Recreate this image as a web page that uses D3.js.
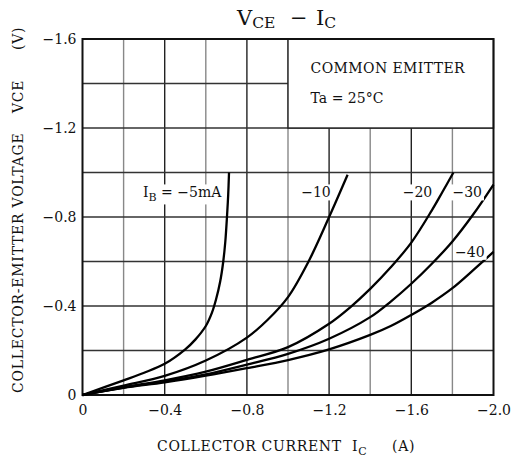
<!DOCTYPE html>
<html>
<head>
<meta charset="utf-8">
<script src="https://cdn.jsdelivr.net/npm/d3@7/dist/d3.min.js"></script>
<style>
    body { margin: 0; background: #fff; }
    text { font-family: "DejaVu Serif", "Liberation Serif", serif; fill: #111; }
</style>
</head>
<body>
<div id="chart" style="width:511px;height:460px;"></div>
<script>
// collector current IC (A) / collector-emitter voltage VCE (V), one array per base current
var ib5 = [[0, 0], [-0.2, -0.066], [-0.3, -0.1], [-0.4, -0.14], [-0.5, -0.205], [-0.55, -0.25],
    [-0.6, -0.31], [-0.63, -0.37], [-0.65, -0.43], [-0.67, -0.51], [-0.685, -0.6], [-0.695, -0.69],
    [-0.703, -0.8], [-0.709, -0.9], [-0.713, -1.0]];
var ib10 = [[0, 0], [-0.2, -0.042], [-0.4, -0.086], [-0.6, -0.155], [-0.8, -0.258], [-0.9, -0.337],
    [-1.0, -0.44], [-1.1, -0.6], [-1.2, -0.8], [-1.29, -0.99]];
var ib20 = [[0, 0], [-0.2, -0.035], [-0.4, -0.066], [-0.6, -0.105], [-0.8, -0.158], [-1.0, -0.215],
    [-1.2, -0.32], [-1.3, -0.392], [-1.4, -0.477], [-1.5, -0.574], [-1.6, -0.685], [-1.7, -0.83],
    [-1.75, -0.91], [-1.805, -1.0]];
var ib30 = [[0, 0], [-0.2, -0.033], [-0.4, -0.061], [-0.6, -0.093], [-0.8, -0.137], [-1.0, -0.185],
    [-1.2, -0.253], [-1.4, -0.35], [-1.5, -0.42], [-1.6, -0.5], [-1.7, -0.59], [-1.8, -0.69],
    [-1.9, -0.81], [-2.0, -0.946]];
var ib40 = [[0, 0], [-0.2, -0.032], [-0.4, -0.057], [-0.6, -0.087], [-0.8, -0.121], [-1.0, -0.157],
    [-1.2, -0.205], [-1.4, -0.27], [-1.5, -0.31], [-1.6, -0.36], [-1.7, -0.415], [-1.8, -0.48],
    [-1.9, -0.56], [-2.0, -0.643]];

var seriesData = [ib5, ib10, ib20, ib30, ib40];
var seriesLabels = ["−5mA", "−10", "−20", "−30", "−40"];
// where each curve's label sits, in data units [IC, VCE]
var labelAt = [[-0.485, -0.91], [-1.136, -0.91], [-1.63, -0.91], [-1.872, -0.91], [-1.885, -0.643]];

var xTicks = [0, -0.4, -0.8, -1.2, -1.6, -2.0];
var yTicks = [0, -0.4, -0.8, -1.2, -1.6];
var xGrid = d3.range(1, 10).map(i => -i * 0.2);
var yGrid = d3.range(1, 8).map(i => -i * 0.2);

var width = 511, height = 460;
var padding = { left: 82.5, right: 17.5, top: 39, bottom: 65 };
var plotWidth = width - padding.left - padding.right;
var plotHeight = height - padding.top - padding.bottom;

var x_scale = d3.scaleLinear().domain([0, -2.0]).range([0, plotWidth]);
var y_scale = d3.scaleLinear().domain([0, -1.6]).range([plotHeight, 0]);

var fmt = function (d) { return d === 0 ? "0" : d3.format(".1f")(d); };

var svg = d3.select("#chart")
    .append("svg")
    .attr("width", width)
    .attr("height", height);

var plot = svg.append("g")
    .attr("transform", "translate(" + padding.left + "," + padding.top + ")");

// grid
plot.append("g").selectAll("line")
    .data(xGrid)
    .enter()
    .append("line")
    .attr("x1", d => x_scale(d)).attr("x2", d => x_scale(d))
    .attr("y1", 0).attr("y2", plotHeight)
    .attr("stroke", (d, i) => (i % 2 === 1 ? "#222" : "#888"))
    .attr("stroke-width", 1.4);
plot.append("g").selectAll("line")
    .data(yGrid)
    .enter()
    .append("line")
    .attr("x1", 0).attr("x2", plotWidth)
    .attr("y1", d => y_scale(d)).attr("y2", d => y_scale(d))
    .attr("stroke", "#333")
    .attr("stroke-width", 1.4);

// condition box in the upper right
plot.append("rect")
    .attr("x", x_scale(-1.0))
    .attr("y", y_scale(-1.6))
    .attr("width", x_scale(-2.0) - x_scale(-1.0))
    .attr("height", y_scale(-1.2) - y_scale(-1.6))
    .attr("fill", "#fff")
    .attr("stroke", "#222")
    .attr("stroke-width", 1.4);

plot.append("text")
    .attr("x", x_scale(-1.11))
    .attr("y", y_scale(-1.6) + 34)
    .attr("font-size", 14)
    .attr("letter-spacing", 0.4)
    .text("COMMON EMITTER");
plot.append("text")
    .attr("x", x_scale(-1.11))
    .attr("y", y_scale(-1.6) + 64)
    .attr("font-size", 14)
    .text("Ta = 25°C");

// frame
plot.append("rect")
    .attr("width", plotWidth)
    .attr("height", plotHeight)
    .attr("fill", "none")
    .attr("stroke", "#111")
    .attr("stroke-width", 2);

// curves
var line = d3.line()
    .x(d => x_scale(d[0]))
    .y(d => y_scale(d[1]))
    .curve(d3.curveCatmullRom.alpha(0.5));

plot.append("g").selectAll("path")
    .data(seriesData)
    .enter()
    .append("path")
    .attr("d", line)
    .attr("fill", "none")
    .attr("stroke", "#000")
    .attr("stroke-width", 2.3);

// curve labels with white background
var labels = plot.append("g").selectAll("g")
    .data(seriesLabels)
    .enter()
    .append("g")
    .attr("transform", (d, i) => "translate(" + x_scale(labelAt[i][0]) + "," + y_scale(labelAt[i][1]) + ")");

labels.each(function (d, i) {
    var g = d3.select(this);
    var t = g.append("text")
        .attr("text-anchor", "middle")
        .attr("dy", "0.35em")
        .attr("font-size", 14);
    if (i === 0) {
        t.append("tspan").text("I");
        t.append("tspan").attr("font-size", 11).attr("dy", 4).text("B");
        t.append("tspan").attr("dy", -4).text(" = " + d);
    } else {
        t.text(d);
    }
    var bb = t.node().getBBox();
    g.insert("rect", "text")
        .attr("x", bb.x - 2)
        .attr("y", bb.y)
        .attr("width", bb.width + 4)
        .attr("height", bb.height)
        .attr("fill", "#fff");
});

// axes (labels only, grid draws the lines)
var x_axis = d3.axisBottom(x_scale).tickValues(xTicks).tickSize(0).tickPadding(10).tickFormat(fmt);
var y_axis = d3.axisLeft(y_scale).tickValues(yTicks).tickSize(0).tickPadding(6).tickFormat(fmt);

var gx = plot.append("g")
    .attr("transform", "translate(0," + plotHeight + ")")
    .call(x_axis);
var gy = plot.append("g")
    .call(y_axis);
[gx, gy].forEach(function (g) {
    g.select(".domain").remove();
    g.selectAll("text")
        .attr("font-family", "DejaVu Serif")
        .attr("font-size", 14)
        .attr("fill", "#111");
});

// title
var title = svg.append("text")
    .attr("x", 237)
    .attr("y", 25)
    .attr("font-size", 21);
title.append("tspan").text("V");
title.append("tspan").attr("font-size", 15.5).attr("dy", 3).text("CE");
title.append("tspan").attr("x", 290).attr("dy", -3).text("−");
title.append("tspan").attr("x", 316).text("I");
title.append("tspan").attr("font-size", 15.5).attr("dy", 3).text("C");

// x axis title
var xt = svg.append("text")
    .attr("x", 157)
    .attr("y", 451)
    .attr("font-size", 14)
    .attr("letter-spacing", 0.7);
xt.append("tspan").text("COLLECTOR CURRENT");
xt.append("tspan").attr("x", 352).text("I");
xt.append("tspan").attr("font-size", 11).attr("dy", 4).text("C");
xt.append("tspan").attr("x", 392).attr("dy", -4).text("(A)");

// y axis title, written bottom to top
var yt = svg.append("text")
    .attr("transform", "translate(23,393) rotate(-90)")
    .attr("font-size", 14)
    .attr("letter-spacing", 0.75);
yt.append("tspan").attr("x", 0).text("COLLECTOR-EMITTER VOLTAGE");
yt.append("tspan").attr("x", 280).text("VCE");
yt.append("tspan").attr("x", 343).text("(V)");
</script>
</body>
</html>
